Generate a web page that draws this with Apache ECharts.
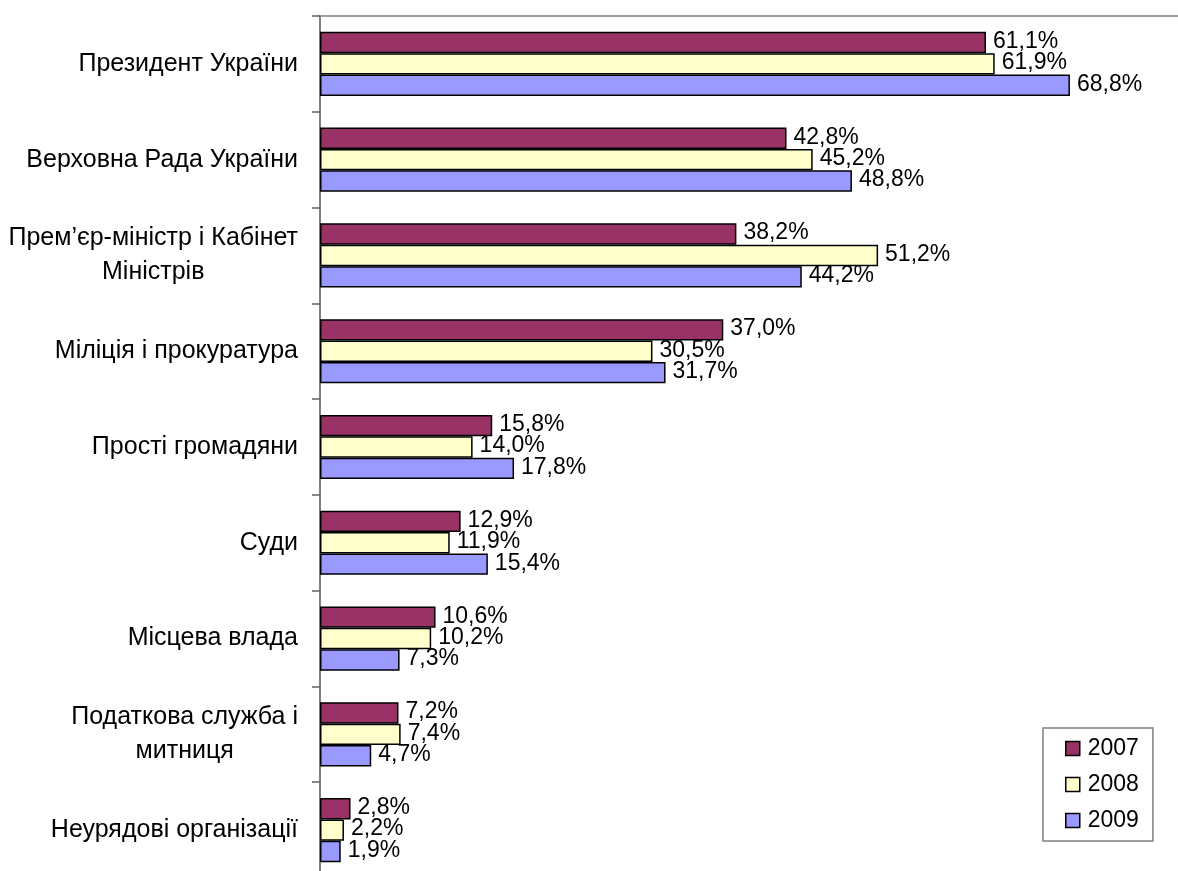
<!DOCTYPE html>
<html>
<head>
<meta charset="utf-8">
<script src="https://cdn.jsdelivr.net/npm/echarts@6/dist/echarts.min.js"></script>
<style>
html,body{margin:0;padding:0;background:#fff;}
#chart{width:1178px;height:871px;}
</style>
</head>
<body>
<div id="chart"></div>
<script>
var categories = [
  'Президент України',
  'Верховна Рада України',
  'Прем\u2019єр-міністр і Кабінет\nМіністрів',
  'Міліція і прокуратура',
  'Прості громадяни',
  'Суди',
  'Місцева влада',
  'Податкова служба і\nмитниця',
  'Неурядові організації'
];
var seriesNames = ['2007', '2008', '2009'];
var values2007 = [61.1, 42.8, 38.2, 37.0, 15.8, 12.9, 10.6, 7.2, 2.8];
var values2008 = [61.9, 45.2, 51.2, 30.5, 14.0, 11.9, 10.2, 7.4, 2.2];
var values2009 = [68.8, 48.8, 44.2, 31.7, 17.8, 15.4, 7.3, 4.7, 1.9];
var colors = ['#993366', '#FFFFCC', '#9999FF'];

var FONT = 'Arial, "Liberation Sans", sans-serif';
var chart = echarts.init(document.getElementById('chart'));

function mkSeries(name, data, color) {
  return {
    name: name,
    type: 'bar',
    data: data,
    barGap: '0%',
    barCategoryGap: '33%',
    itemStyle: { color: color, borderColor: '#000', borderWidth: 1.5 },
    label: {
      show: true,
      position: 'right',
      distance: 7,
      offset: [0, -1],
      color: '#000',
      fontFamily: FONT,
      fontSize: 23,
      formatter: function (p) { return p.value.toFixed(1).replace('.', ',') + '%'; }
    }
  };
}

chart.setOption({
  animation: false,
  backgroundColor: '#fff',
  grid: {
    left: 320, top: 16, width: 872, height: 862,
    outerBoundsMode: 'none',
    containLabel: false,
    show: true, borderColor: '#a0a0a0', borderWidth: 2, backgroundColor: 'transparent'
  },
  xAxis: {
    type: 'value', min: 0, max: 80, show: false,
    splitLine: { show: false }
  },
  yAxis: {
    type: 'category',
    inverse: true,
    data: categories,
    axisLine: { show: true, lineStyle: { color: '#808080', width: 2 } },
    axisTick: { show: true, length: 8, lineStyle: { color: '#606060', width: 1.5 } },
    axisLabel: {
      margin: 22,
      color: '#000',
      fontFamily: FONT,
      fontSize: 25,
      formatter: function (v) {
        if (v.indexOf('\n') < 0) return v;
        return v.split('\n').map(function (s) { return '{c|' + s + '}'; }).join('\n');
      },
      rich: {
        c: { align: 'center', fontFamily: FONT, fontSize: 25, lineHeight: 34, color: '#000' }
      }
    }
  },
  legend: {
    orient: 'vertical',
    left: 1043,
    top: 728,
    data: seriesNames,
    icon: 'rect',
    itemWidth: 14,
    itemHeight: 14,
    itemGap: 13,
    padding: [9, 14, 9, 22],
    borderColor: '#808080',
    borderWidth: 1.5,
    backgroundColor: '#fff',
    itemStyle: { borderColor: '#000', borderWidth: 1.5 },
    textStyle: { color: '#000', fontFamily: FONT, fontSize: 23, lineHeight: 22, padding: [0, 0, 0, 3] }
  },
  series: [
    mkSeries(seriesNames[0], values2007, colors[0]),
    mkSeries(seriesNames[1], values2008, colors[1]),
    mkSeries(seriesNames[2], values2009, colors[2])
  ]
});
</script>
</body>
</html>
